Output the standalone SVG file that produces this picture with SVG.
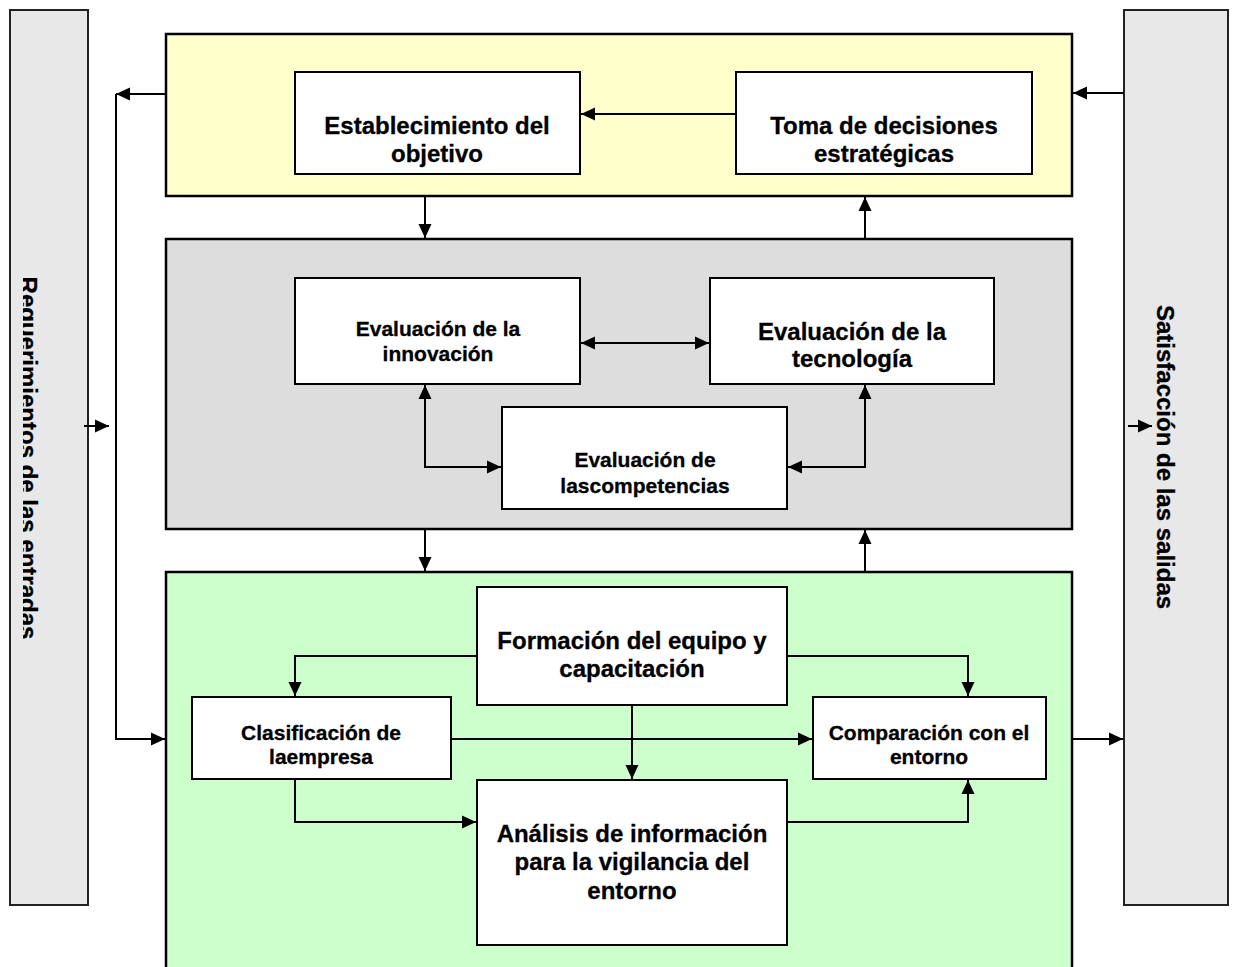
<svg xmlns="http://www.w3.org/2000/svg" width="1234" height="967" viewBox="0 0 1234 967">
<style>
.bar{fill:#E8E8E8;stroke:#222;stroke-width:2}
.panel{stroke:#000;stroke-width:2.5}
.box{fill:#fff;stroke:#000;stroke-width:2}
.t{font-family:"Liberation Sans",Arial,sans-serif;font-weight:bold;fill:#000;text-anchor:middle;stroke:#000;stroke-width:0.3}
.big{font-size:24px}
.sm{font-size:21px}
.c{fill:none;stroke:#000;stroke-width:2}
</style>
<defs>
<marker id="ah" viewBox="0 0 14 14" markerWidth="14" markerHeight="14" markerUnits="userSpaceOnUse" refX="14" refY="7" orient="auto-start-reverse">
<path d="M0,0.5 L14,7 L0,13.5 z" fill="#000"/>
</marker>
<clipPath id="lclip"><rect x="23" y="10" width="65" height="895"/></clipPath>
</defs>
<rect width="1234" height="967" fill="#fff"/>

<g id="left-bar">
<rect class="bar" x="10" y="10" width="78" height="895"/>
<g clip-path="url(#lclip)">
<text class="t big" transform="translate(20,458) rotate(90)">Requerimientos de las entradas</text>
</g>
</g>
<g id="right-bar">
<rect class="bar" x="1124" y="10" width="104" height="895"/>
<text class="t big" transform="translate(1157,457) rotate(90)">Satisfacción de las salidas</text>
</g>

<g id="panel-yellow"><rect class="panel" x="166" y="34" width="906" height="162" fill="#FFFFCC"/></g>
<g id="panel-gray"><rect class="panel" x="166" y="239" width="906" height="290" fill="#DDDDDD"/></g>
<g id="panel-green"><rect class="panel" x="166" y="572" width="906" height="400" fill="#CCFFCC"/></g>

<g id="establecimiento">
<rect class="box" x="295" y="72" width="285" height="102"/>
<text class="t big" x="437" y="134">Establecimiento del</text>
<text class="t big" x="437" y="162">objetivo</text>
</g>
<g id="toma">
<rect class="box" x="736" y="72" width="296" height="102"/>
<text class="t big" x="884" y="134">Toma de decisiones</text>
<text class="t big" x="884" y="162">estratégicas</text>
</g>
<g id="innovacion">
<rect class="box" x="295" y="278" width="285" height="106"/>
<text class="t sm" x="438" y="336">Evaluación de la</text>
<text class="t sm" x="438" y="361">innovación</text>
</g>
<g id="tecnologia">
<rect class="box" x="710" y="278" width="284" height="106"/>
<text class="t big" x="852" y="340">Evaluación de la</text>
<text class="t big" x="852" y="367">tecnología</text>
</g>
<g id="competencias">
<rect class="box" x="502" y="407" width="285" height="102"/>
<text class="t sm" x="645" y="467">Evaluación de</text>
<text class="t sm" x="645" y="493">lascompetencias</text>
</g>
<g id="formacion">
<rect class="box" x="477" y="587" width="310" height="118"/>
<text class="t big" x="632" y="649">Formación del equipo y</text>
<text class="t big" x="632" y="677">capacitación</text>
</g>
<g id="clasificacion">
<rect class="box" x="192" y="697" width="259" height="82"/>
<text class="t sm" x="321" y="740">Clasificación de</text>
<text class="t sm" x="321" y="764">laempresa</text>
</g>
<g id="comparacion">
<rect class="box" x="813" y="697" width="233" height="82"/>
<text class="t sm" x="929" y="740">Comparación con el</text>
<text class="t sm" x="929" y="764">entorno</text>
</g>
<g id="analisis">
<rect class="box" x="477" y="780" width="310" height="165"/>
<text class="t big" x="632" y="842">Análisis de información</text>
<text class="t big" x="632" y="870">para la vigilancia del</text>
<text class="t big" x="632" y="899">entorno</text>
</g>

<g id="connectors">
<line class="c" x1="736" y1="114" x2="581" y2="114" marker-end="url(#ah)"/>
<line class="c" x1="425" y1="196" x2="425" y2="238" marker-end="url(#ah)"/>
<line class="c" x1="865" y1="239" x2="865" y2="197" marker-end="url(#ah)"/>
<line class="c" x1="425" y1="529" x2="425" y2="571" marker-end="url(#ah)"/>
<line class="c" x1="865" y1="572" x2="865" y2="530" marker-end="url(#ah)"/>
<line class="c" x1="581" y1="343" x2="709" y2="343" marker-start="url(#ah)" marker-end="url(#ah)"/>
<polyline class="c" points="425,385 425,467 501,467" marker-start="url(#ah)" marker-end="url(#ah)"/>
<polyline class="c" points="865,385 865,467 788,467" marker-start="url(#ah)" marker-end="url(#ah)"/>
<polyline class="c" points="477,656 295,656 295,696" marker-end="url(#ah)"/>
<polyline class="c" points="787,656 968,656 968,696" marker-end="url(#ah)"/>
<line class="c" x1="632" y1="705" x2="632" y2="779" marker-end="url(#ah)"/>
<line class="c" x1="451" y1="739" x2="812" y2="739" marker-end="url(#ah)"/>
<polyline class="c" points="295,779 295,822 476,822" marker-end="url(#ah)"/>
<polyline class="c" points="787,822 968,822 968,780" marker-end="url(#ah)"/>
<line class="c" x1="166" y1="94" x2="116" y2="94" marker-end="url(#ah)"/>
<polyline class="c" points="116,94 116,739 165,739" marker-end="url(#ah)"/>
<line class="c" x1="84" y1="426" x2="109" y2="426" marker-end="url(#ah)"/>
<line class="c" x1="1124" y1="93" x2="1073" y2="93" marker-end="url(#ah)"/>
<line class="c" x1="1072" y1="739" x2="1123" y2="739" marker-end="url(#ah)"/>
<line class="c" x1="1128" y1="426" x2="1152" y2="426" marker-end="url(#ah)"/>
</g>
</svg>
